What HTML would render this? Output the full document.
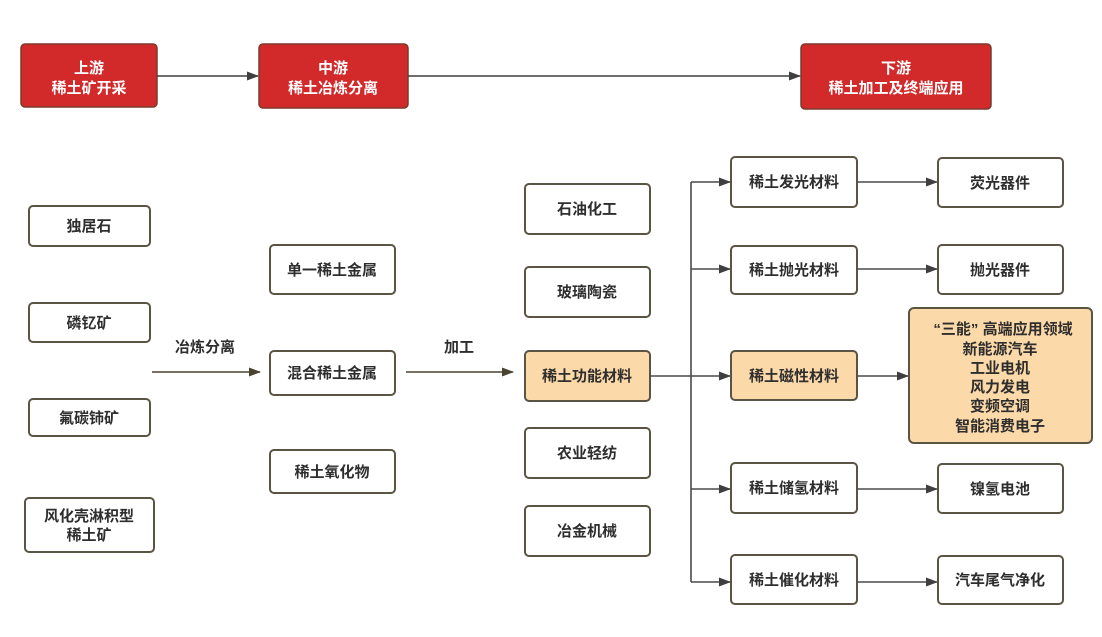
<!DOCTYPE html>
<html><head><meta charset="utf-8"><style>
html,body{margin:0;padding:0;background:#fff;}
svg{display:block;}
text{font-family:"Liberation Sans","Noto Sans CJK SC",sans-serif;font-weight:bold;}
</style></head><body>
<svg width="1102" height="637" viewBox="0 0 1102 637" xmlns="http://www.w3.org/2000/svg">
<defs>
<marker id="ag" markerWidth="12" markerHeight="9" refX="11" refY="4.5" orient="auto" markerUnits="userSpaceOnUse"><path d="M0,0 L12,4.5 L0,9 Z" fill="#3f3f3f"/></marker>
<marker id="ao" markerWidth="12" markerHeight="9" refX="11" refY="4.5" orient="auto" markerUnits="userSpaceOnUse"><path d="M0,0 L12,4.5 L0,9 Z" fill="#4a4330"/></marker>
</defs>
<rect width="1102" height="637" fill="#fff"/>

<!-- top red boxes -->
<g fill="#d2292b" stroke="#7a3a2a" stroke-width="1.5">
<rect x="21" y="44" width="136" height="63" rx="4"/>
<rect x="259" y="44" width="149" height="64" rx="4"/>
<rect x="801" y="44" width="190" height="65" rx="4"/>
</g>
<g fill="#fff" font-size="15" text-anchor="middle">
<text x="89" y="73">上游</text><text x="89" y="93">稀土矿开采</text>
<text x="333" y="73">中游</text><text x="333" y="93">稀土冶炼分离</text>
<text x="896" y="73">下游</text><text x="896" y="93">稀土加工及终端应用</text>
</g>
<g stroke="#3f3f3f" stroke-width="1.6" fill="none">
<line x1="157" y1="76" x2="258" y2="76" marker-end="url(#ag)"/>
<line x1="408" y1="76" x2="800" y2="76" marker-end="url(#ag)"/>
</g>

<!-- white boxes -->
<g fill="#fff" stroke="#5a5444" stroke-width="2">
<rect x="29" y="206" width="121" height="40" rx="4"/>
<rect x="29" y="303" width="121" height="39" rx="4"/>
<rect x="29" y="399" width="121" height="37" rx="4"/>
<rect x="25" y="498" width="129" height="54" rx="4"/>
<rect x="270" y="245" width="125" height="49" rx="4"/>
<rect x="270" y="351" width="125" height="44" rx="4"/>
<rect x="270" y="450" width="125" height="43" rx="4"/>
<rect x="525" y="184" width="125" height="50" rx="4"/>
<rect x="525" y="267" width="125" height="50" rx="4"/>
<rect x="525" y="428" width="125" height="50" rx="4"/>
<rect x="525" y="506" width="125" height="50" rx="4"/>
<rect x="731" y="157" width="126" height="50" rx="4"/>
<rect x="731" y="246" width="126" height="48" rx="4"/>
<rect x="731" y="463" width="126" height="50" rx="4"/>
<rect x="731" y="555" width="126" height="49" rx="4"/>
<rect x="938" y="158" width="125" height="49" rx="4"/>
<rect x="938" y="245" width="125" height="49" rx="4"/>
<rect x="938" y="464" width="125" height="49" rx="4"/>
<rect x="938" y="556" width="125" height="48" rx="4"/>
</g>
<g fill="#fcd9a8" stroke="#5a5444" stroke-width="2">
<rect x="525" y="351" width="125" height="50" rx="4"/>
<rect x="731" y="351" width="126" height="49" rx="4"/>
<rect x="909" y="308" width="183" height="135" rx="5"/>
</g>

<g fill="#2e2e2e" font-size="15" text-anchor="middle">
<text x="89" y="231">独居石</text>
<text x="89" y="328">磷钇矿</text>
<text x="89" y="423">氟碳铈矿</text>
<text x="89" y="521">风化壳淋积型</text>
<text x="89" y="540">稀土矿</text>
<text x="332" y="275">单一稀土金属</text>
<text x="332" y="378">混合稀土金属</text>
<text x="332" y="477">稀土氧化物</text>
<text x="587" y="214">石油化工</text>
<text x="587" y="297">玻璃陶瓷</text>
<text x="587" y="381">稀土功能材料</text>
<text x="587" y="458">农业轻纺</text>
<text x="587" y="536">冶金机械</text>
<text x="794" y="187">稀土发光材料</text>
<text x="794" y="275">稀土抛光材料</text>
<text x="794" y="381">稀土磁性材料</text>
<text x="794" y="493">稀土储氢材料</text>
<text x="794" y="585">稀土催化材料</text>
<text x="1000" y="188">荧光器件</text>
<text x="1000" y="275">抛光器件</text>
<text x="1000" y="494">镍氢电池</text>
<text x="1000" y="585">汽车尾气净化</text>
<text x="1003" y="334">“三能” 高端应用领域</text>
<text x="1000" y="354">新能源汽车</text>
<text x="1000" y="373">工业电机</text>
<text x="1000" y="392">风力发电</text>
<text x="1000" y="411">变频空调</text>
<text x="1000" y="431">智能消费电子</text>
<text x="205" y="352">冶炼分离</text>
<text x="459" y="352">加工</text>
</g>

<!-- middle arrows -->
<g stroke="#4a4330" stroke-width="1.6" fill="none">
<line x1="152" y1="372" x2="260" y2="372" marker-end="url(#ao)"/>
<line x1="406" y1="372" x2="513" y2="372" marker-end="url(#ao)"/>
</g>

<!-- right connectors -->
<g stroke="#4a4a4a" stroke-width="1.6" fill="none">
<line x1="650" y1="376" x2="691" y2="376"/>
<line x1="691" y1="182" x2="691" y2="582"/>
<line x1="691" y1="182" x2="730" y2="182" marker-end="url(#ag)"/>
<line x1="691" y1="269" x2="730" y2="269" marker-end="url(#ag)"/>
<line x1="691" y1="376" x2="730" y2="376" marker-end="url(#ag)"/>
<line x1="691" y1="489" x2="730" y2="489" marker-end="url(#ag)"/>
<line x1="691" y1="582" x2="730" y2="582" marker-end="url(#ag)"/>
<line x1="857" y1="182" x2="937" y2="182" marker-end="url(#ag)"/>
<line x1="857" y1="269" x2="937" y2="269" marker-end="url(#ag)"/>
<line x1="857" y1="376" x2="908" y2="376" marker-end="url(#ag)"/>
<line x1="857" y1="489" x2="937" y2="489" marker-end="url(#ag)"/>
<line x1="857" y1="582" x2="937" y2="582" marker-end="url(#ag)"/>
</g>
</svg>
</body></html>
